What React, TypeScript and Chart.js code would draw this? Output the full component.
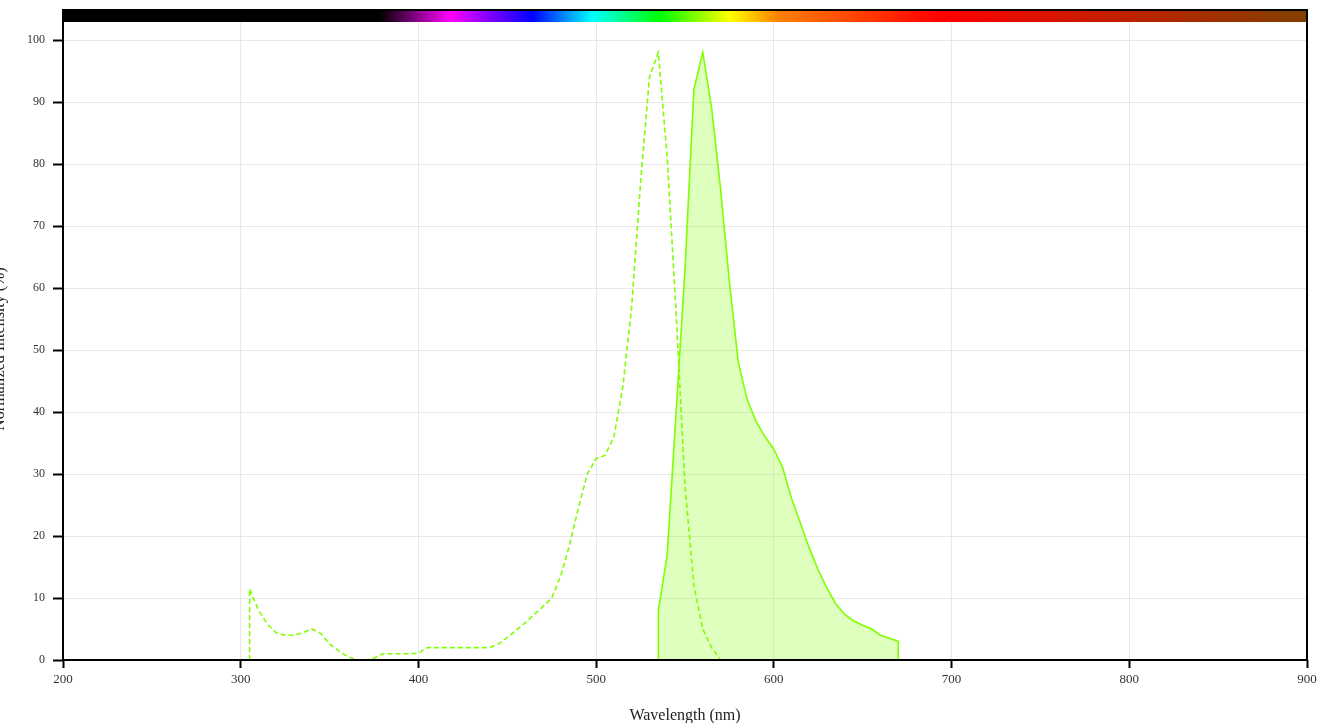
import React, { useEffect, useRef } from "react";
import { Chart, registerables } from "chart.js";

Chart.register(...registerables);

// Excitation spectrum (dashed)
const exWavelengths = [305, 305, 310, 315, 320, 325, 330, 335, 340, 345, 350, 355, 360, 365, 370, 375, 380, 385, 390, 395, 400, 405, 410, 415, 420, 425, 430, 435, 440, 445, 450, 455, 460, 465, 470, 475, 480, 485, 490, 495, 500, 505, 510, 515, 520, 525, 530, 535, 540, 545, 550, 555, 560, 565, 570];
const exValues = [0, 11.5, 8, 5.8, 4.4, 4, 4, 4.4, 5, 4.3, 2.6, 1.5, 0.6, 0, 0, 0.3, 1, 1, 1, 1, 1.1, 2, 2, 2, 2, 2, 2, 2, 2, 2.6, 3.6, 4.8, 6, 7.3, 8.6, 10, 13.5, 18.5, 24.5, 30, 32.5, 33, 36, 44, 57, 77, 94, 98, 81, 56, 28, 12, 5, 2, 0];

// Emission spectrum (solid, filled)
const emWavelengths = [535, 535, 540, 545, 550, 555, 560, 565, 570, 575, 580, 585, 590, 595, 600, 605, 610, 615, 620, 625, 630, 635, 640, 645, 650, 655, 660, 665, 670, 670];
const emValues = [0, 8, 17, 40, 63, 92, 98, 89, 76, 61, 48, 42, 38.5, 36, 34, 31, 26, 22, 18, 14.5, 11.5, 9, 7.3, 6.3, 5.6, 5, 4, 3.5, 3, 0];

// Axis ticks
const xTicks = [200, 300, 400, 500, 600, 700, 800, 900];
const yTicks = [0, 10, 20, 30, 40, 50, 60, 70, 80, 90, 100];

// Spectrum bar colour stops (wavelength, colour)
const spectrumWavelengths = [200, 378, 418, 440, 464, 498, 536, 575, 603, 693, 900];
const spectrumColors = ["#000000", "#000000", "#ff00ff", "#8000ff", "#0000ff", "#00ffff", "#00ff00", "#ffff00", "#ff8000", "#ff0000", "#804000"];

const LINE_COLOR = "rgb(127,255,0)";
const FILL_COLOR = "rgba(127,255,0,0.25)";
const FONT = "'Liberation Serif', 'Times New Roman', serif";

const decorPlugin = {
  id: "decor",
  afterDraw(chart: any) {
    const { ctx, chartArea } = chart;
    const xs = chart.scales.x;
    const { left, right, top, bottom } = chartArea;
    ctx.save();
    // spectrum bar
    const grad = ctx.createLinearGradient(left, 0, right, 0);
    spectrumWavelengths.forEach((w, i) => {
      const p = (xs.getPixelForValue(w) - left) / (right - left);
      grad.addColorStop(Math.min(1, Math.max(0, p)), spectrumColors[i]);
    });
    ctx.fillStyle = grad;
    ctx.fillRect(left, top, right - left, 13);
    // frame
    ctx.strokeStyle = "#000";
    ctx.lineWidth = 2;
    ctx.strokeRect(left, top + 1, right - left, bottom - top - 1);
    // axis titles
    ctx.fillStyle = "#222";
    ctx.font = `16px ${FONT}`;
    ctx.textAlign = "center";
    ctx.textBaseline = "alphabetic";
    ctx.fillText("Wavelength (nm)", (left + right) / 2, 720);
    ctx.translate(4, 349);
    ctx.rotate(-Math.PI / 2);
    ctx.fillText("Normalized Intensity (%)", 0, 0);
    ctx.restore();
  },
};

export default function App() {
  const ref = useRef<HTMLCanvasElement>(null);
  useEffect(() => {
    document.body.style.margin = "0";
    const ctx = ref.current!.getContext("2d")!;
    const chart = new Chart(ctx, {
      type: "line",
      data: {
        datasets: [
          {
            label: "Emission",
            data: emWavelengths.map((x, i) => ({ x, y: emValues[i] })),
            borderColor: LINE_COLOR,
            backgroundColor: FILL_COLOR,
            borderWidth: 1.6,
            fill: "origin",
            pointRadius: 0,
            tension: 0,
          },
          {
            label: "Excitation",
            data: exWavelengths.map((x, i) => ({ x, y: exValues[i] })),
            borderColor: LINE_COLOR,
            borderWidth: 1.6,
            borderDash: [5, 3],
            fill: false,
            pointRadius: 0,
            tension: 0,
          },
        ],
      },
      options: {
        animation: false,
        responsive: true,
        maintainAspectRatio: false,
        layout: { padding: { left: 0, top: 9, right: 35, bottom: 0 } },
        plugins: { legend: { display: false }, tooltip: { enabled: false } },
        scales: {
          x: {
            type: "linear",
            min: 200,
            max: 900,
            afterFit: (s: any) => {
              s.height = 63;
              s.paddingLeft = 0;
              s.paddingRight = 0;
            },
            afterBuildTicks: (s: any) => {
              s.ticks = xTicks.map((v) => ({ value: v }));
            },
            grid: { color: "#e8e8e8", tickColor: "#000", tickLength: 8, tickWidth: 2, lineWidth: 1 },
            border: { display: false },
            ticks: { color: "#333", font: { family: FONT, size: 13 }, padding: 4, maxRotation: 0 },
          },
          y: {
            type: "linear",
            min: 0,
            max: 105,
            afterFit: (s: any) => {
              s.width = 63;
              s.paddingTop = 0;
              s.paddingBottom = 0;
            },
            afterBuildTicks: (s: any) => {
              s.ticks = yTicks.map((v) => ({ value: v }));
            },
            grid: { color: "#e8e8e8", tickColor: "#000", tickLength: 10, tickWidth: 2, lineWidth: 1 },
            border: { display: false },
            ticks: { color: "#333", font: { family: FONT, size: 12 }, padding: 8 },
          },
        },
      },
      plugins: [decorPlugin],
    });
    return () => chart.destroy();
  }, []);
  return (
    <div style={{ position: "absolute", left: 0, top: 0, width: 1342, height: 723 }}>
      <canvas ref={ref} />
    </div>
  );
}
